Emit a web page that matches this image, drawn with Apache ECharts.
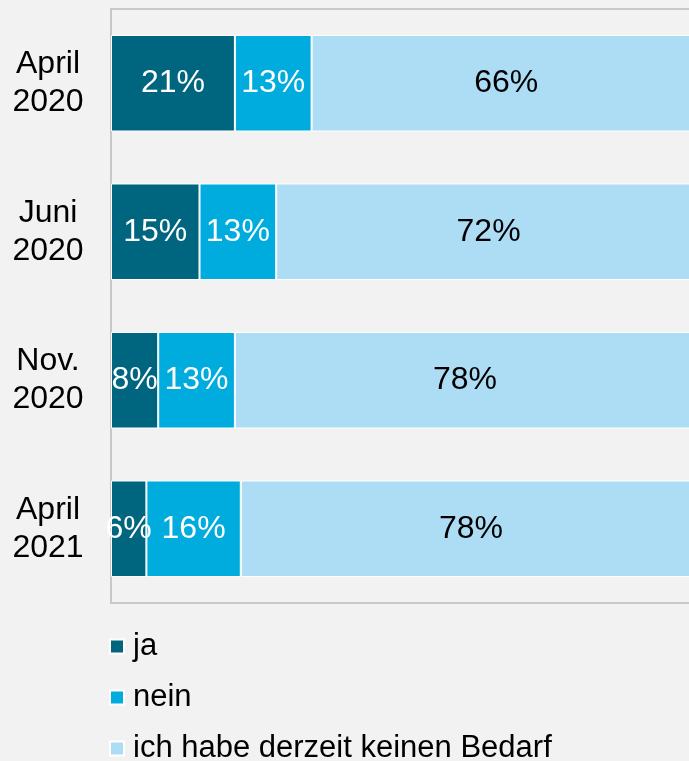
<!DOCTYPE html>
<html>
<head>
<meta charset="utf-8">
<script src="https://cdn.jsdelivr.net/npm/echarts@6/dist/echarts.min.js"></script>
<style>
html,body{margin:0;padding:0;background:#f2f2f2;}
#c{width:689px;height:761px;}
</style>
</head>
<body>
<div id="c"></div>
<script>
var categories = ['April\n2020', 'Juni\n2020', 'Nov.\n2020', 'April\n2021'];
var seriesNames = ['ja', 'nein', 'ich habe derzeit keinen Bedarf'];
var jaValues = [21, 15, 8, 6];
var neinValues = [13, 13, 13, 16];
var keinBedarfValues = [66, 72, 78, 78];

var colors = ['#00657f', '#00acdd', '#addcf5'];
var labelColors = ['#ffffff', '#ffffff', '#000000'];
var allValues = [jaValues, neinValues, keinBedarfValues];

var chart = echarts.init(document.getElementById('c'));
var font = '"Liberation Sans", Arial, sans-serif';

var series = seriesNames.map(function (name, i) {
  return {
    name: name,
    type: 'bar',
    stack: 'total',
    barCategoryGap: '35%',
    data: allValues[i],
    itemStyle: { color: colors[i], borderColor: '#ffffff', borderWidth: 1 },
    label: {
      show: true,
      position: 'inside',
      formatter: '{c}%',
      color: labelColors[i],
      fontSize: 32,
      fontFamily: font
    },
    emphasis: { disabled: true }
  };
});

chart.setOption({
  backgroundColor: '#f2f2f2',
  animation: false,
  color: colors,
  grid: {
    left: 111, top: 9, bottom: 158, width: 590,
    outerBoundsMode: 'none',
    containLabel: false,
    show: true, borderColor: '#c8c8c8', borderWidth: 2,
    backgroundColor: 'transparent'
  },
  legend: {
    orient: 'vertical',
    left: 109,
    top: 631,
    padding: 0,
    height: 140,
    itemWidth: 14,
    itemHeight: 14,
    itemGap: 20,
    icon: 'rect',
    data: seriesNames,
    textStyle: { fontSize: 31, fontFamily: font, color: '#000', lineHeight: 30, padding: [0, 0, 0, 4] }
  },
  xAxis: {
    type: 'value',
    min: 0,
    max: 100,
    show: false
  },
  yAxis: {
    type: 'category',
    data: categories,
    inverse: true,
    axisLine: { show: true, lineStyle: { color: '#c8c8c8', width: 2 } },
    axisTick: { show: false },
    axisLabel: {
      align: 'center',
      margin: 63,
      fontSize: 32,
      lineHeight: 38,
      color: '#000',
      fontFamily: font
    }
  },
  series: series
});
</script>
</body>
</html>
